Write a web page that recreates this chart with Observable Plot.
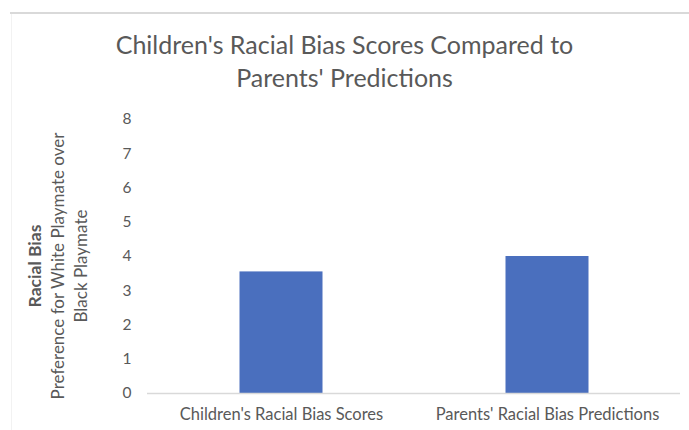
<!DOCTYPE html>
<html>
<head>
<meta charset="utf-8">
<script src="https://cdn.jsdelivr.net/npm/d3@7"></script>
<script src="https://cdn.jsdelivr.net/npm/@observablehq/plot@0.6"></script>
<style>
  html, body { margin: 0; padding: 0; background: #fff; }
  #chart { position: relative; width: 689px; height: 430px; overflow: hidden; font-family: Lato, "Open Sans", sans-serif; color: #595959; }
  #topline { position: absolute; left: 10px; top: 12px; width: 679px; height: 2px; background: #d9d9d9; }
  #leftline { position: absolute; left: 11px; top: 14px; width: 1px; height: 416px; background: #f2f2f2; }
  #title { position: absolute; left: 0; top: 28px; width: 689px; text-align: center; font-size: 25px; line-height: 33px; color: #595959; }
  #ylabel { position: absolute; left: 57px; top: 266px; width: 360px; transform: translate(-50%, -50%) rotate(-90deg); text-align: center; font-size: 17px; line-height: 23px; color: #595959; }
  #ylabel b { font-weight: bold; font-size: 17.5px; }
  #plot { position: absolute; left: 0; top: 0; }
</style>
</head>
<body>
<div id="chart">
  <div id="topline"></div>
  <div id="leftline"></div>
  <div id="title">Children's Racial Bias Scores Compared to<br>Parents' Predictions</div>
  <div id="ylabel"><b>Racial Bias</b><br>Preference for White Playmate over<br>Black Playmate</div>
  <div id="plot"></div>
</div>
<script>
// Bar categories and their mean scores
const categories = ["Children's Racial Bias Scores", "Parents' Racial Bias Predictions"];
const scores = [3.55, 4.0];
const yTicks = [0, 1, 2, 3, 4, 5, 6, 7, 8];

const data = categories.map((c, i) => ({category: c, score: scores[i]}));

const plot = Plot.plot({
  width: 689,
  height: 430,
  marginTop: 119,
  marginBottom: 37,
  marginLeft: 147,
  marginRight: 9,
  style: {fontFamily: "Lato, 'Open Sans', sans-serif", fontSize: "14px", color: "#595959", background: "transparent"},
  x: {domain: categories, padding: 0, label: null},
  y: {domain: [0, 8], label: null},
  marks: [
    Plot.barY(data, {x: "category", y: "score", fill: "#4a6fbe", insetLeft: 91.5, insetRight: 91.5}),
    Plot.ruleY([0], {stroke: "#d9d9d9", strokeWidth: 1.5}),
    Plot.axisY(yTicks, {tickSize: 0, tickPadding: 16, fontSize: 15.5, fill: "#595959", label: null}),
    Plot.axisX({tickSize: 0, tickPadding: 15, fontSize: 16.5, fill: "#595959", label: null})
  ]
});
document.getElementById("plot").appendChild(plot);
</script>
</body>
</html>
